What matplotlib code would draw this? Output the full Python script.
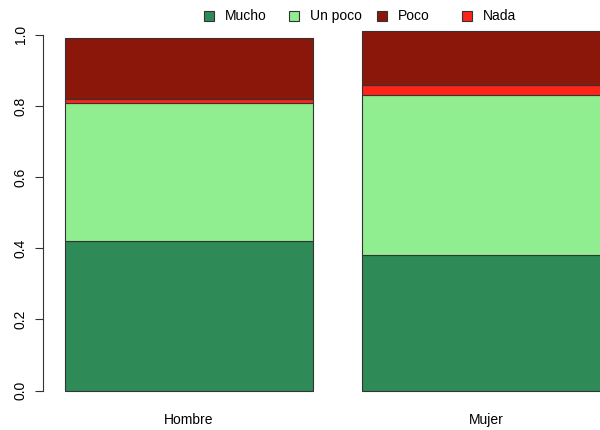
import numpy as np
import matplotlib.pyplot as plt
from matplotlib.patches import Rectangle

plt.rcParams['font.family'] = ['Liberation Sans', 'DejaVu Sans']

# datos (proporciones)
grupos = ['Hombre', 'Mujer']
categorias = ['Mucho', 'Un poco', 'Nada', 'Poco']   # orden de apilado
valores = {
    'Mucho':   [0.42, 0.38],
    'Un poco': [0.39, 0.45],
    'Nada':    [0.01, 0.03],
    'Poco':    [0.17, 0.15],
}
colores = {
    'Mucho': '#2E8B57',
    'Un poco': '#90EE90',
    'Poco': '#8B170A',
    'Nada': '#FF2418',
}
orden_leyenda = ['Mucho', 'Un poco', 'Poco', 'Nada']

fig = plt.figure(figsize=(6, 4.3), dpi=100)
ax = fig.add_axes([43 / 600, 25 / 430, 589 / 600, 388 / 430])

x = np.array([0.7, 1.9])
base = np.zeros(len(grupos))
for cat in categorias:
    ax.bar(x, valores[cat], width=1.0, bottom=base, color=colores[cat],
           edgecolor='#333333', linewidth=0.8)
    base += np.array(valores[cat])

ax.set_xlim(0.112, 2.488)
ax.set_ylim(-0.0404, 1.0504)

for s in ['top', 'right', 'bottom']:
    ax.spines[s].set_visible(False)
ax.spines['left'].set_bounds(0, 1)
ax.spines['left'].set_color('#333333')
ax.set_yticks([0, 0.2, 0.4, 0.6, 0.8, 1.0])
ax.set_yticklabels(['0.0', '0.2', '0.4', '0.6', '0.8', '1.0'], rotation=90, va='center')
ax.tick_params(axis='y', length=6, width=0.8, color='#333333', labelsize=10, pad=5)
ax.set_xticks(x)
ax.set_xticklabels(grupos, fontsize=10)
ax.tick_params(axis='x', length=0, pad=6)

# leyenda manual arriba
pos_cuadro = [209, 294, 382, 467]
for px, cat in zip(pos_cuadro, orden_leyenda):
    fig.patches.append(Rectangle(((px - 5) / 600, 1 - 21 / 430), 10 / 600, 10 / 430,
                                 transform=fig.transFigure, facecolor=colores[cat],
                                 edgecolor='#333333', linewidth=0.8))
    fig.text((px + 16) / 600, 1 - 16 / 430, cat, fontsize=10, va='center', ha='left')

fig.savefig('out.png', dpi=100)
